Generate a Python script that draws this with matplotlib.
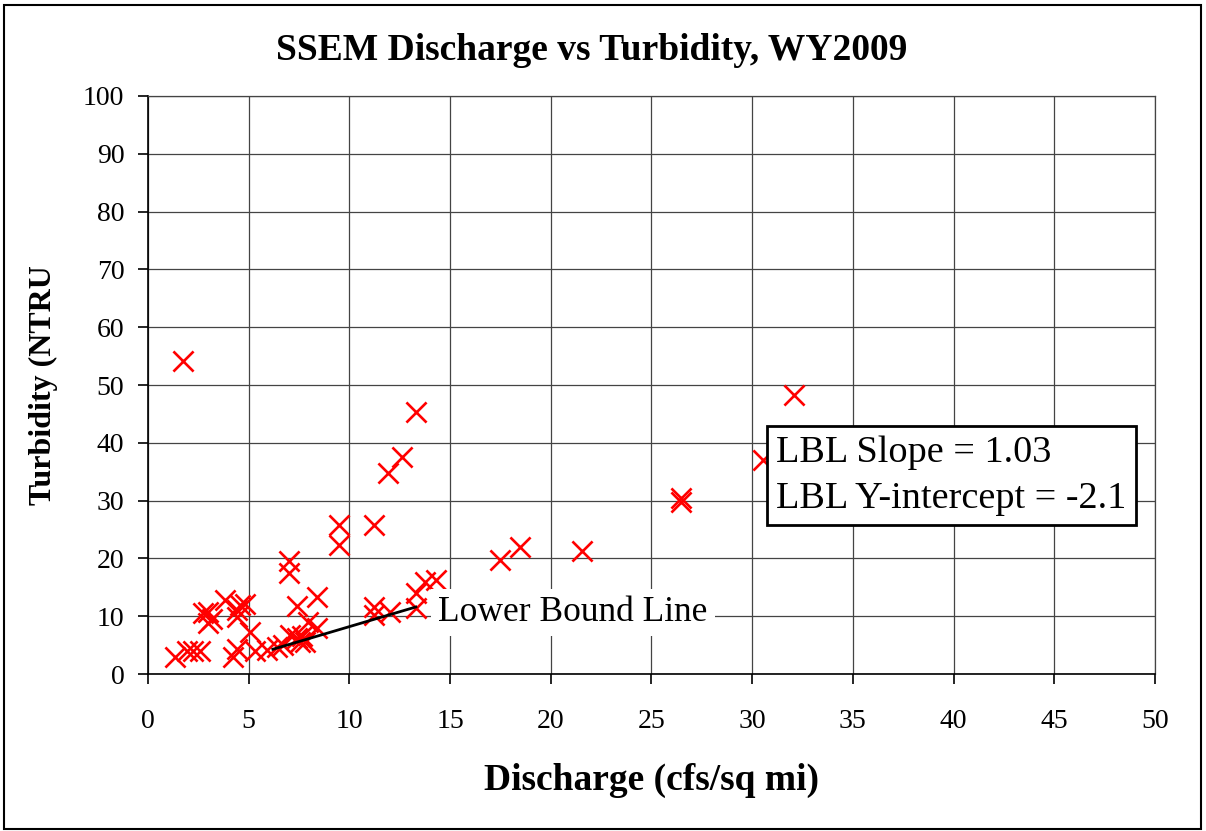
import matplotlib.pyplot as plt
import numpy as np
from matplotlib.patches import Rectangle

plt.rcParams['font.family'] = ['Liberation Serif', 'DejaVu Serif']

# Discharge (cfs/sq mi) vs turbidity
discharge = [1.74, 13.3, 12.6, 11.9, 11.2, 9.5, 9.5, 7.0, 7.0,
             30.55, 32.1, 26.45, 26.45, 21.56, 18.47, 17.48,
             11.2, 11.2, 12.0, 13.3, 13.3, 13.75, 14.3,
             8.38, 7.38, 7.96, 8.38, 7.05, 7.38, 7.63, 7.8, 7.55, 6.72, 5.06,
             1.34, 1.92, 2.25, 2.58, 4.24, 4.4, 2.75, 3.0, 3.16, 3.0,
             3.82, 4.4, 4.57, 4.82, 4.4, 5.3, 5.9, 6.4]
turbidity = [54.2, 45.3, 37.5, 34.8, 25.8, 25.8, 22.4, 19.5, 17.4,
             37.0, 48.3, 30.4, 29.7, 21.2, 22.0, 19.8,
             11.6, 10.2, 10.8, 14.0, 11.5, 16.0, 16.3,
             13.4, 11.8, 9.0, 7.9, 6.7, 6.2, 6.5, 5.6, 5.6, 5.0, 7.3,
             3.0, 3.9, 3.9, 3.9, 3.0, 4.4, 10.5, 10.8, 9.6, 8.8,
             12.8, 11.1, 11.9, 12.2, 9.9, 3.9, 4.2, 4.6]

# lower bound line
lbl_slope = 1.03
lbl_intercept = -2.1
lbl_x = [6.2, 13.3]

fig = plt.figure(figsize=(12.06, 8.31), dpi=100)
ax = fig.add_axes([0.1227, 0.1889, 0.835, 0.6956])

# outer chart border
fig.patches.append(Rectangle((0.003, 0.003), 0.993, 0.991, transform=fig.transFigure,
                             fill=False, edgecolor='black', linewidth=1.5))

ax.scatter(discharge, turbidity, marker='x', color='red', s=210, linewidths=1.9, zorder=3)

lx = np.array(lbl_x)
ax.plot(lx, lbl_slope * lx + lbl_intercept, color='black', linewidth=2, zorder=4)

ax.set_xlim(0, 50)
ax.set_ylim(0, 100)
ax.set_xticks(np.arange(0, 51, 5))
ax.set_yticks(np.arange(0, 101, 10))
ax.grid(True, color='#444444', linewidth=0.9)
ax.set_axisbelow(True)
for side in ['top', 'right']:
    ax.spines[side].set_color('#444444')
    ax.spines[side].set_linewidth(0.9)
for side in ['left', 'bottom']:
    ax.spines[side].set_linewidth(1.2)
ax.tick_params(direction='out', length=7, width=1.2, labelsize=20)
ax.tick_params(axis='y', pad=10)
ax.tick_params(axis='x', pad=18)

fig.text(592 / 1206, 1 - 50 / 831, 'SSEM Discharge vs Turbidity, WY2009', fontsize=27,
         fontweight='bold', ha='center', va='center')
fig.text(651 / 1206, 1 - 780 / 831, 'Discharge (cfs/sq mi)', fontsize=27,
         fontweight='bold', ha='center', va='center')
fig.text(43 / 1206, 1 - 385 / 831, 'Turbidity (NTRU', fontsize=23, rotation=90,
         fontweight='bold', ha='center', va='center')

ax.text(21.1, 10.7, 'Lower Bound Line', fontsize=25.5, ha='center', va='center', zorder=5,
        bbox=dict(facecolor='white', edgecolor='none', pad=5))

ax.text(31.2, 34.3, 'LBL Slope = 1.03\nLBL Y-intercept = -2.1', fontsize=27.5,
        ha='left', va='center', linespacing=1.4, zorder=5,
        bbox=dict(facecolor='white', edgecolor='black', linewidth=2, pad=7))

fig.savefig('out.png', dpi=100)
